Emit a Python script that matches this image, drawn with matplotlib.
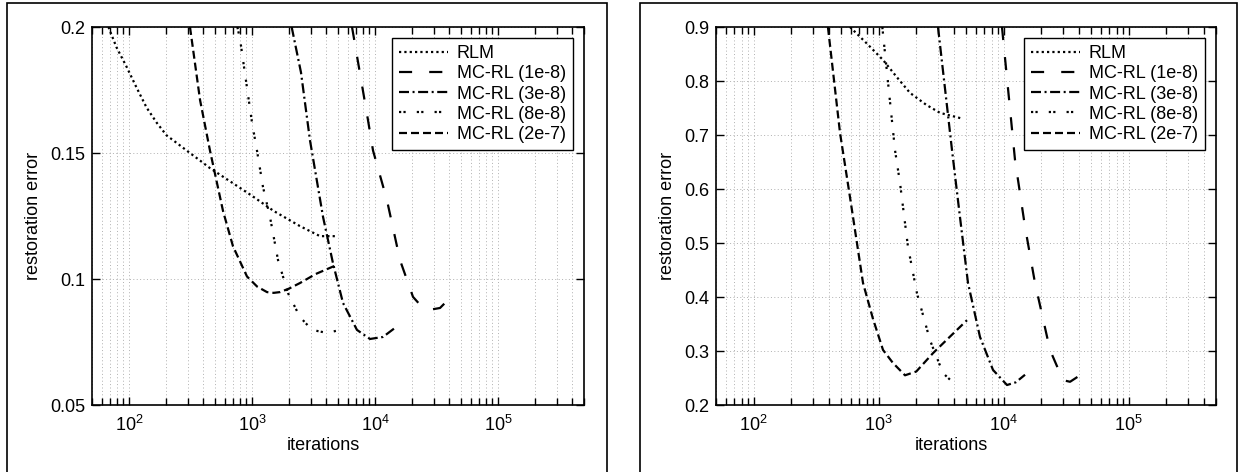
import matplotlib
matplotlib.use('Agg')
import matplotlib.pyplot as plt
from matplotlib.patches import Rectangle
from matplotlib.ticker import LogLocator, NullFormatter, FixedLocator

plt.rcParams['font.family'] = ['Liberation Sans', 'DejaVu Sans']
plt.rcParams['font.size'] = 13
plt.rcParams['mathtext.fontset'] = 'custom'
plt.rcParams['mathtext.rm'] = 'Liberation Sans'
plt.rcParams['mathtext.it'] = 'Liberation Sans:italic'
plt.rcParams['mathtext.bf'] = 'Liberation Sans:bold'

labels = ['RLM', 'MC-RL (1e-8)', 'MC-RL (3e-8)', 'MC-RL (8e-8)', 'MC-RL (2e-7)']

# left panel
left_rlm_x = [68, 79, 96, 115, 139, 168, 202, 244, 303, 378, 455, 700, 1000, 1500, 2450, 3570, 4900]
left_rlm_y = [0.200, 0.192, 0.184, 0.176, 0.168, 0.162, 0.157, 0.154, 0.1505, 0.147, 0.144,
              0.138, 0.133, 0.127, 0.121, 0.117, 0.117]
left_1e8_x = [6500, 8770, 9630, 12500, 15960, 20360, 24000, 28000, 33760, 40700]
left_1e8_y = [0.200, 0.163, 0.151, 0.1313, 0.1075, 0.0929, 0.0890, 0.0878, 0.0885, 0.0925]
left_3e8_x = [2100, 2500, 2960, 3780, 4550, 5490, 7130, 9100, 11600, 14530]
left_3e8_y = [0.200, 0.182, 0.155, 0.1246, 0.1063, 0.0905, 0.0798, 0.0762, 0.0770, 0.0806]
left_8e8_x = [760, 800, 1000, 1097, 1228, 1400, 1627, 1961, 2454, 3075, 4070, 4900]
left_8e8_y = [0.200, 0.195, 0.162, 0.151, 0.1365, 0.1246, 0.1075, 0.0944, 0.0849, 0.0798, 0.0786, 0.0795]
left_2e7_x = [313, 378, 455, 581, 700, 910, 1100, 1324, 1500, 1688, 2000, 2454, 3300, 4900]
left_2e7_y = [0.200, 0.171, 0.151, 0.127, 0.113, 0.101, 0.097, 0.0948, 0.0945, 0.0948, 0.0962, 0.0984, 0.102, 0.1056]

# right panel
right_rlm_x = [590, 800, 1084, 1400, 1782, 2400, 3097, 4730]
right_rlm_y = [0.900, 0.870, 0.839, 0.807, 0.778, 0.756, 0.741, 0.730]
right_1e8_x = [9700, 12330, 14830, 17820, 23490, 29850, 34000, 40800]
right_1e8_y = [0.900, 0.654, 0.530, 0.426, 0.302, 0.246, 0.243, 0.255]
right_3e8_x = [2985, 3864, 4475, 5187, 6470, 8220, 10640, 12500, 14830]
right_3e8_y = [0.900, 0.672, 0.548, 0.426, 0.326, 0.265, 0.237, 0.242, 0.256]
right_8e8_x = [1070, 1352, 1483, 1717, 2026, 2576, 3273, 3800, 4475]
right_8e8_y = [0.900, 0.672, 0.611, 0.493, 0.407, 0.320, 0.259, 0.245, 0.243]
right_2e7_x = [393, 491, 590, 750, 900, 1084, 1300, 1626, 2000, 2722, 3700, 5090]
right_2e7_y = [0.900, 0.704, 0.585, 0.426, 0.360, 0.302, 0.278, 0.255, 0.262, 0.296, 0.326, 0.357]

left_yticks = [0.05, 0.1, 0.15, 0.2]
right_yticks = [0.2, 0.3, 0.4, 0.5, 0.6, 0.7, 0.8, 0.9]

# dash patterns (in line widths)
styles = [(0, (1, 1.4)),
          (0, (5.9, 7.7)),
          (0, (4.5, 1.6, 0.9, 1.6)),
          (0, (1, 1, 1, 5)),
          (0, (3.6, 1.8))]


def draw_panel(ax, series, yticks):
    for (x, y), ls, lab in zip(series, styles, labels):
        ax.plot(x, y, color='black', linestyle=ls, linewidth=1.6, label=lab)
    ax.set_xscale('log')
    ax.set_xlim(50, 5e5)
    ax.set_ylim(yticks[0], yticks[-1])
    ax.yaxis.set_major_locator(FixedLocator(yticks))
    ax.set_yticklabels([('%g' % t) for t in yticks])
    ax.xaxis.set_major_locator(LogLocator(base=10, numticks=10))
    ax.xaxis.set_minor_locator(LogLocator(base=10, subs=range(2, 10), numticks=20))
    ax.xaxis.set_minor_formatter(NullFormatter())
    ax.tick_params(which='both', direction='in', top=True, right=True, width=1.0)
    ax.tick_params(which='major', length=6, pad=5)
    ax.tick_params(axis='x', which='major', pad=7)
    ax.tick_params(which='minor', length=5)
    ax.grid(True, which='major', color='#b0b0b0', linestyle=(0, (1, 2.5)), linewidth=0.7)
    ax.grid(True, which='minor', axis='x', color='#b0b0b0', linestyle=(0, (1, 2.5)), linewidth=0.7)
    for s in ax.spines.values():
        s.set_linewidth(1.2)
    ax.set_xlabel('iterations')
    ax.xaxis.set_label_coords(0.47, -0.085)
    ax.set_ylabel('restoration error', labelpad=6)
    leg = ax.legend(loc='upper right', fontsize=13, handlelength=2.7, handletextpad=0.5,
                    labelspacing=0.18, borderaxespad=0.6, fancybox=False, framealpha=1,
                    edgecolor='black', borderpad=0.4)
    leg.get_frame().set_linewidth(1.0)


fig = plt.figure(figsize=(12.44, 4.72), dpi=100)
ax1 = fig.add_axes([92 / 1244, 67 / 472, 492 / 1244, 378 / 472])
ax2 = fig.add_axes([716 / 1244, 67 / 472, 500 / 1244, 378 / 472])

draw_panel(ax1, [(left_rlm_x, left_rlm_y), (left_1e8_x, left_1e8_y), (left_3e8_x, left_3e8_y),
                 (left_8e8_x, left_8e8_y), (left_2e7_x, left_2e7_y)], left_yticks)
draw_panel(ax2, [(right_rlm_x, right_rlm_y), (right_1e8_x, right_1e8_y), (right_3e8_x, right_3e8_y),
                 (right_8e8_x, right_8e8_y), (right_2e7_x, right_2e7_y)], right_yticks)

# outer panel frames
fig.patches.append(Rectangle((7 / 1244, -0.02), 600 / 1244, 1.02 - 3 / 472, transform=fig.transFigure,
                             fill=False, edgecolor='black', linewidth=1.2))
fig.patches.append(Rectangle((640 / 1244, -0.02), 597 / 1244, 1.02 - 3 / 472, transform=fig.transFigure,
                             fill=False, edgecolor='black', linewidth=1.2))

fig.savefig('out.png', dpi=100)
